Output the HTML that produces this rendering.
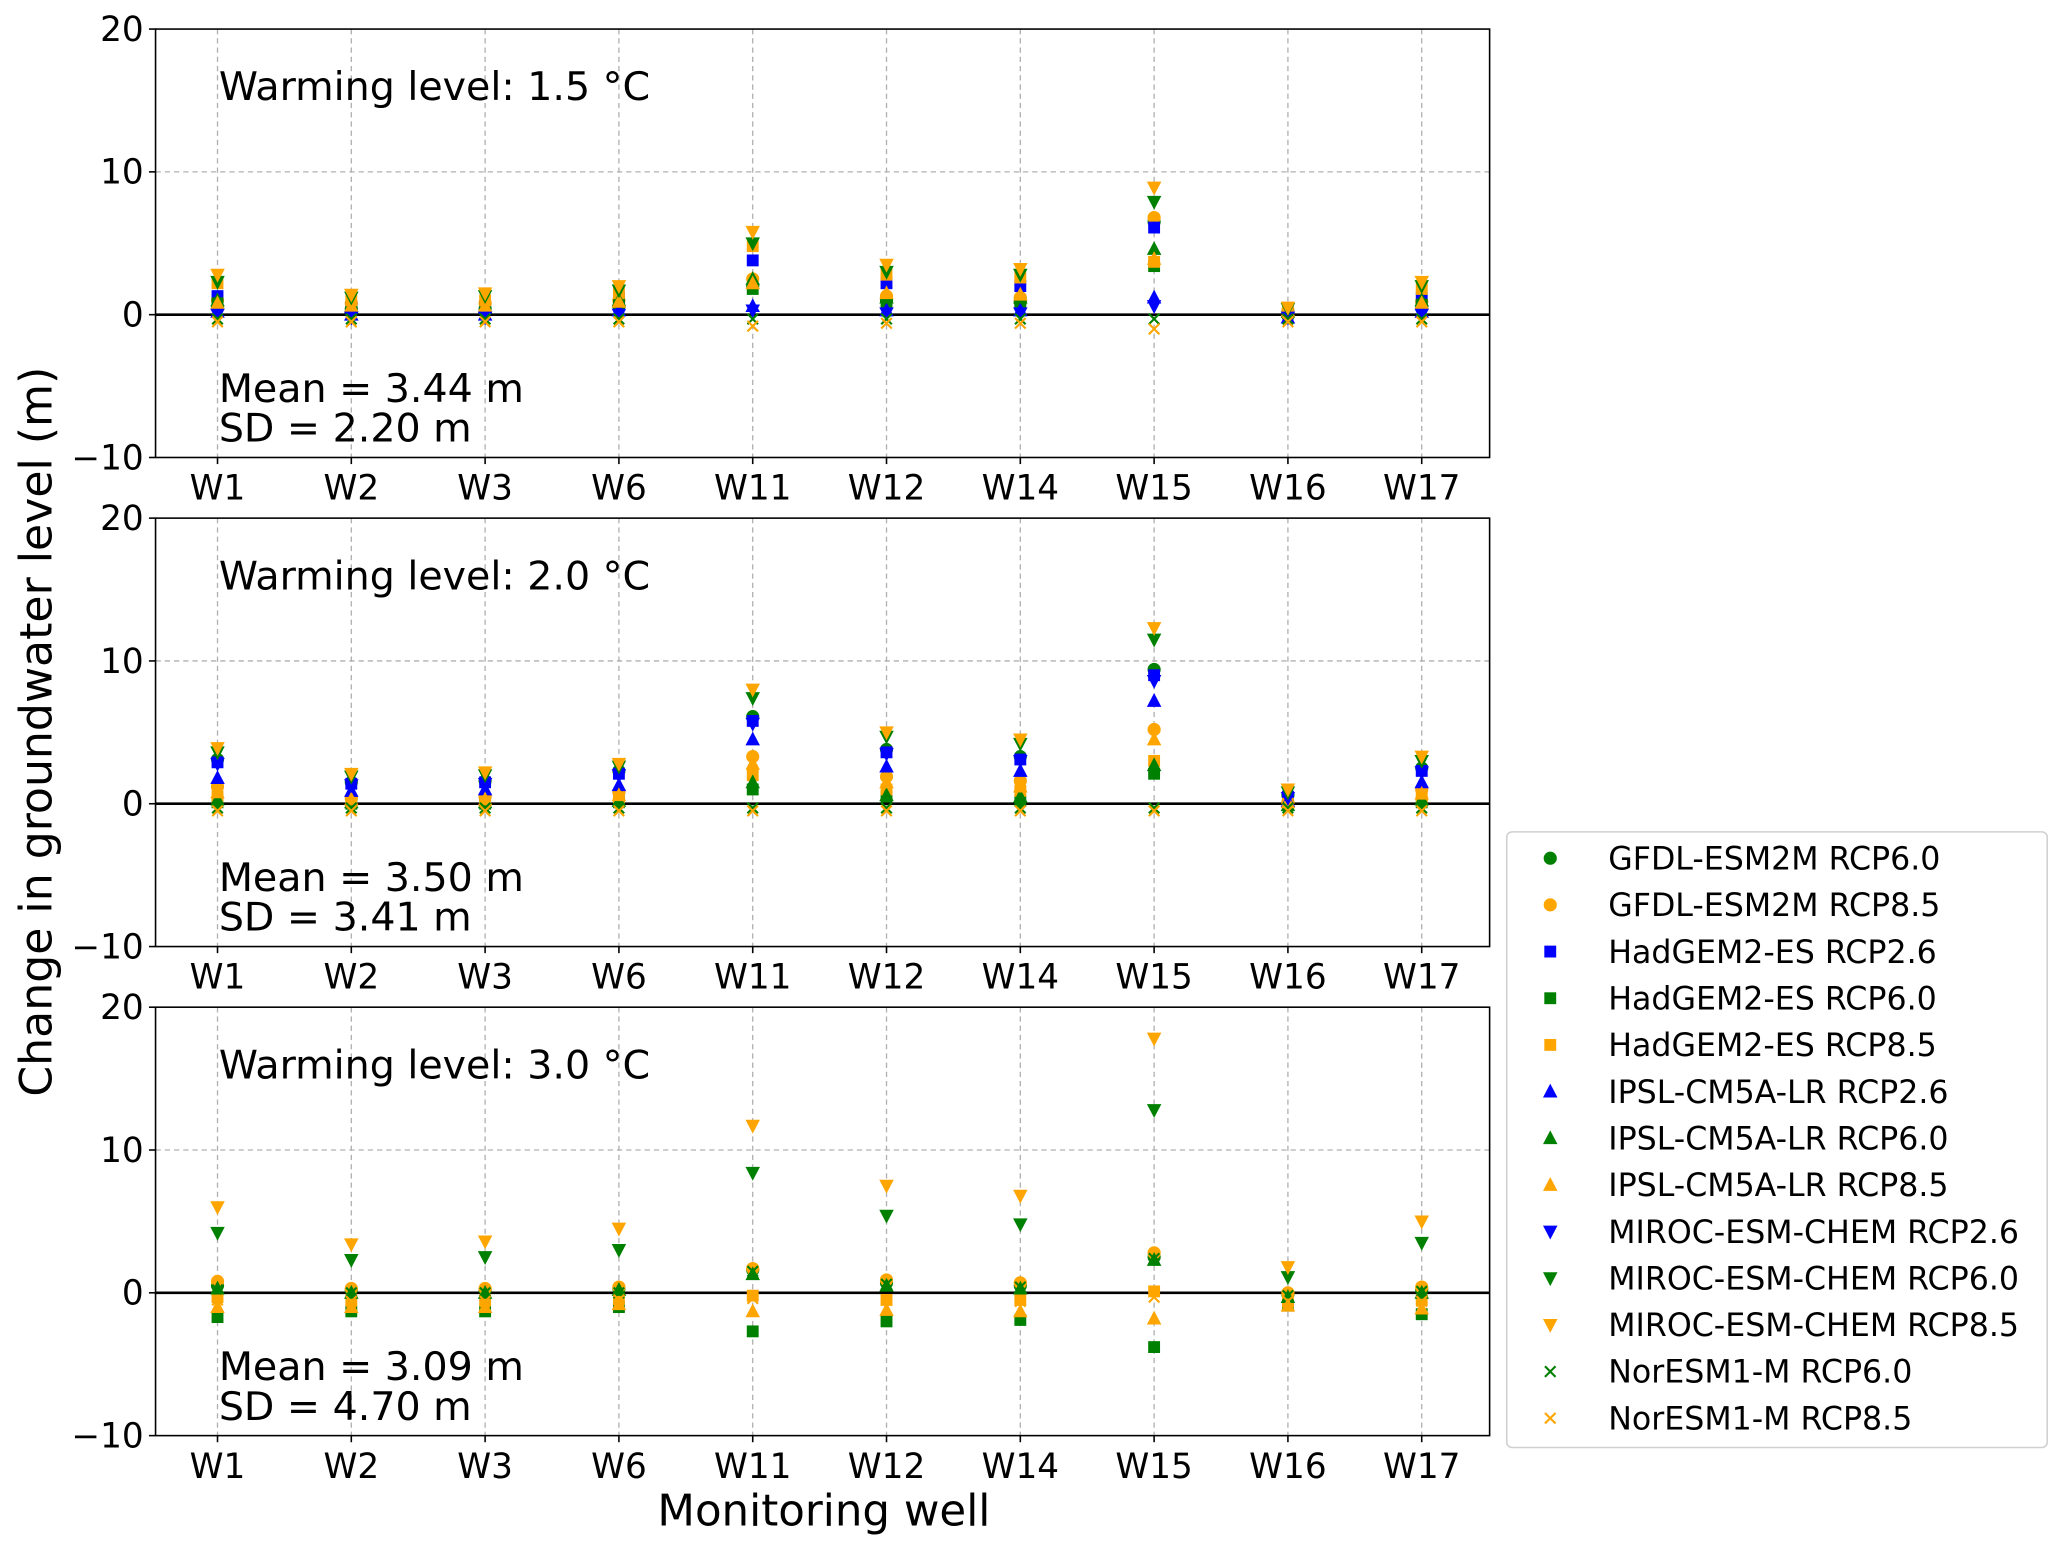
<!DOCTYPE html>
<html><head><meta charset="utf-8">
<style>
html,body{margin:0;padding:0;background:#fff;}
svg{display:block;}
text{font-family:"DejaVu Sans","Liberation Sans",sans-serif;fill:#000;}
</style></head>
<body>
<svg id="chart" width="2067" height="1553" viewBox="0 0 1568 1178" xmlns="http://www.w3.org/2000/svg"></svg>
<script>
const wells = ["W1","W2","W3","W6","W11","W12","W14","W15","W16","W17"];
const panelTitles = ["Warming level: 1.5 °C","Warming level: 2.0 °C","Warming level: 3.0 °C"];
const panelMeans = ["Mean = 3.44 m","Mean = 3.50 m","Mean = 3.09 m"];
const panelSDs = ["SD = 2.20 m","SD = 3.41 m","SD = 4.70 m"];
const yTicks = [-10,0,10,20];
const seriesNames = ["GFDL-ESM2M RCP6.0","GFDL-ESM2M RCP8.5","HadGEM2-ES RCP2.6","HadGEM2-ES RCP6.0","HadGEM2-ES RCP8.5","IPSL-CM5A-LR RCP2.6","IPSL-CM5A-LR RCP6.0","IPSL-CM5A-LR RCP8.5","MIROC-ESM-CHEM RCP2.6","MIROC-ESM-CHEM RCP6.0","MIROC-ESM-CHEM RCP8.5","NorESM1-M RCP6.0","NorESM1-M RCP8.5"];
const seriesColors = ["green","orange","blue","green","orange","blue","green","orange","blue","green","orange","green","orange"];
const seriesMarkers = ["o","o","s","s","s","^","^","^","v","v","v","x","x"];
// Panel 1 (1.5 C)
const p1_gfdl60 = [0.5,0.4,0.4,0.6,2.0,1.0,0.9,6.5,0.2,0.5];
const p1_gfdl85 = [1.0,0.8,0.8,1.0,2.5,1.3,1.2,6.8,0.3,0.9];
const p1_had26  = [1.3,0.5,0.6,1.2,3.8,2.2,2.0,6.1,0.1,1.2];
const p1_had60  = [0.8,0.3,0.4,0.8,1.8,0.8,0.8,3.4,0.1,0.7];
const p1_had85  = [2.2,1.0,1.0,1.5,4.8,2.8,2.6,3.7,0.2,1.8];
const p1_ipsl26 = [0.2,0.0,0.0,0.3,0.6,0.3,0.3,1.2,-0.2,0.2];
const p1_ipsl60 = [1.0,0.5,0.5,1.0,2.5,1.2,1.2,4.6,0.2,1.0];
const p1_ipsl85 = [0.8,0.6,0.6,0.9,2.2,1.5,1.4,3.9,0.3,0.8];
const p1_miroc26= [0.0,-0.2,-0.2,0.0,0.3,0.1,0.1,0.6,-0.2,0.0];
const p1_miroc60= [2.3,1.2,1.3,1.7,5.0,3.0,2.8,7.9,0.4,2.0];
const p1_miroc85= [2.8,1.4,1.5,2.0,5.8,3.5,3.2,8.9,0.5,2.3];
const p1_nor60  = [-0.3,-0.3,-0.3,-0.3,-0.3,-0.3,-0.3,-0.3,-0.3,-0.3];
const p1_nor85  = [-0.5,-0.5,-0.5,-0.5,-0.8,-0.6,-0.6,-1.0,-0.5,-0.5];
// Panel 2 (2.0 C)
const p2_gfdl60 = [3.1,1.5,1.6,2.3,6.1,3.8,3.3,9.4,0.6,2.5];
const p2_gfdl85 = [1.2,0.4,0.5,0.8,3.3,1.9,1.6,5.2,0.1,1.0];
const p2_had26  = [2.9,1.4,1.5,2.1,5.8,3.6,3.1,9.0,0.5,2.3];
const p2_had60  = [0.1,0.0,0.0,0.1,1.0,0.5,0.2,2.1,-0.1,0.1];
const p2_had85  = [0.5,0.2,0.2,0.4,2.0,1.0,0.9,3.0,0.0,0.5];
const p2_ipsl26 = [1.8,0.9,1.0,1.3,4.5,2.6,2.3,7.2,0.2,1.5];
const p2_ipsl60 = [0.3,0.1,0.1,0.2,1.5,0.6,0.5,2.7,-0.1,0.3];
const p2_ipsl85 = [0.8,0.3,0.3,0.6,2.8,1.5,1.2,4.5,0.1,0.7];
const p2_miroc26= [2.8,1.3,1.4,2.0,5.6,3.5,3.0,8.6,0.4,2.2];
const p2_miroc60= [3.6,1.9,2.0,2.6,7.4,4.7,4.2,11.5,0.8,3.0];
const p2_miroc85= [3.9,2.1,2.2,2.8,8.0,5.0,4.5,12.3,1.0,3.3];
const p2_nor60  = [-0.3,-0.3,-0.3,-0.3,-0.3,-0.3,-0.3,-0.3,-0.3,-0.3];
const p2_nor85  = [-0.5,-0.5,-0.5,-0.5,-0.5,-0.5,-0.5,-0.5,-0.5,-0.5];
// Panel 3 (3.0 C) - RCP2.6 runs do not reach 3 C
const p3_gfdl60 = [0.5,0.2,0.2,0.3,1.6,0.7,0.5,2.5,-0.1,0.2];
const p3_gfdl85 = [0.8,0.3,0.3,0.4,1.7,0.9,0.7,2.8,0.0,0.4];
const p3_had26  = [];
const p3_had60  = [-1.7,-1.3,-1.3,-1.0,-2.7,-2.0,-1.9,-3.8,-0.9,-1.5];
const p3_had85  = [-0.3,-0.5,-0.5,-0.4,-0.2,-0.5,-0.5,0.1,-0.6,-0.5];
const p3_ipsl26 = [];
const p3_ipsl60 = [0.3,0.0,0.0,0.2,1.3,0.5,0.3,2.3,-0.3,0.0];
const p3_ipsl85 = [-1.0,-1.0,-1.0,-0.8,-1.3,-1.2,-1.3,-1.8,-0.9,-1.1];
const p3_miroc26= [];
const p3_miroc60= [4.2,2.3,2.5,3.0,8.4,5.4,4.8,12.8,1.1,3.5];
const p3_miroc85= [6.0,3.4,3.6,4.5,11.7,7.5,6.8,17.8,1.8,5.0];
const p3_nor60  = [0.2,0.0,0.0,0.0,1.5,0.6,0.4,2.4,-0.2,0.1];
const p3_nor85  = [-0.5,-0.6,-0.6,-0.5,-0.4,-0.5,-0.6,-0.3,-0.6,-0.6];

const panelData = [
 [p1_gfdl60,p1_gfdl85,p1_had26,p1_had60,p1_had85,p1_ipsl26,p1_ipsl60,p1_ipsl85,p1_miroc26,p1_miroc60,p1_miroc85,p1_nor60,p1_nor85],
 [p2_gfdl60,p2_gfdl85,p2_had26,p2_had60,p2_had85,p2_ipsl26,p2_ipsl60,p2_ipsl85,p2_miroc26,p2_miroc60,p2_miroc85,p2_nor60,p2_nor85],
 [p3_gfdl60,p3_gfdl85,p3_had26,p3_had60,p3_had85,p3_ipsl26,p3_ipsl60,p3_ipsl85,p3_miroc26,p3_miroc60,p3_miroc85,p3_nor60,p3_nor85]
];

const NS="http://www.w3.org/2000/svg";
const svg=document.getElementById('chart');
function mk(tag,attrs,parent){const e=document.createElementNS(NS,tag);for(const k in attrs)e.setAttribute(k,attrs[k]);(parent||svg).appendChild(e);return e;}
const L=118,R=1130,PH=325;
const panelTops=[22,393,764];
const xScale=i=>165+i*101.5;
function yScale(v,top){return top+(20-v)*PH/30;}

function marker(type,cx,cy,color,parent,s){
  s=s||1;
  if(type==="o") return mk('circle',{cx:cx,cy:cy,r:5*s,fill:color},parent);
  if(type==="s") return mk('rect',{x:cx-4.5*s,y:cy-4.5*s,width:9*s,height:9*s,fill:color},parent);
  if(type==="^") return mk('polygon',{points:`${cx},${cy-6*s} ${cx-5.5*s},${cy+4.5*s} ${cx+5.5*s},${cy+4.5*s}`,fill:color},parent);
  if(type==="v") return mk('polygon',{points:`${cx},${cy+6*s} ${cx-5.5*s},${cy-4.5*s} ${cx+5.5*s},${cy-4.5*s}`,fill:color},parent);
  if(type==="x") return mk('path',{d:`M${cx-4*s},${cy-4*s}L${cx+4*s},${cy+4*s}M${cx-4*s},${cy+4*s}L${cx+4*s},${cy-4*s}`,stroke:color,'stroke-width':1.6,fill:'none'},parent);
}

panelTops.forEach((top,p)=>{
  const g=mk('g',{});
  
  
  const bottom=top+PH;
  wells.forEach((w,i)=>{
    const gl=mk('line',{x1:xScale(i),x2:xScale(i),y1:top,y2:bottom,stroke:'#b0b0b0','stroke-width':1,'stroke-dasharray':'4,3'},g);
    
    
  });
  yTicks.forEach(t=>{
    if(t===10){
      const gl=mk('line',{x1:L,x2:R,y1:yScale(t,top),y2:yScale(t,top),stroke:'#b0b0b0','stroke-width':1,'stroke-dasharray':'4,3'},g);
      
      
    }
  });
  const zl=mk('line',{x1:L,x2:R,y1:yScale(0,top),y2:yScale(0,top),stroke:'#000','stroke-width':2},g);
  
  
  panelData[p].forEach((vals,s)=>{
    const sg=mk('g',{},g);
    
    
    vals.forEach((v,i)=>{
      const m=marker(seriesMarkers[s],xScale(i),yScale(v,top),seriesColors[s],sg);
      
      
    });
  });
  const fr=mk('rect',{x:L,y:top,width:R-L,height:PH,fill:'none',stroke:'#000','stroke-width':1.2},g);
  
  
  yTicks.forEach(t=>{
    const y=yScale(t,top);
    mk('line',{x1:L-5,x2:L,y1:y,y2:y,stroke:'#000','stroke-width':1.2},g);
    const tx=mk('text',{x:L-9,y:y+9,'text-anchor':'end','font-size':26},g);
    tx.textContent=t<0?'\u2212'+Math.abs(t):String(t);
    
    
  });
  wells.forEach((w,i)=>{
    mk('line',{x1:xScale(i),x2:xScale(i),y1:bottom,y2:bottom+5,stroke:'#000','stroke-width':1.2},g);
    const tx=mk('text',{x:xScale(i),y:bottom+32,'text-anchor':'middle','font-size':26},g);
    tx.textContent=w;
    
    
  });
  const t1=mk('text',{x:166,y:top+54,'font-size':30},g);
  t1.textContent=panelTitles[p];
  
  
  const t2=mk('text',{x:166,y:top+283,'font-size':30},g);
  t2.textContent=panelMeans[p];
  
  
  const t3=mk('text',{x:166,y:top+313,'font-size':30},g);
  t3.textContent=panelSDs[p];
  
  
});

const yl=mk('text',{x:0,y:0,'text-anchor':'middle','font-size':33.5,transform:'translate(39,555) rotate(-90)'});
yl.textContent='Change in groundwater level (m)';


const xl=mk('text',{x:625,y:1157,'text-anchor':'middle','font-size':33});
xl.textContent='Monitoring well';



const lg=mk('g',{});


mk('rect',{x:1143,y:631,width:410,height:467,rx:4,fill:'#fff',stroke:'#d0d0d0','stroke-width':1.2},lg);
seriesNames.forEach((n,s)=>{
  const y=651+s*35.4;
  const eg=mk('g',{},lg);
  
  
  marker(seriesMarkers[s],1176,y,seriesColors[s],eg);
  const tx=mk('text',{x:1220,y:y+8.5,'font-size':24},eg);
  tx.textContent=n;
});
</script>
</body></html>
